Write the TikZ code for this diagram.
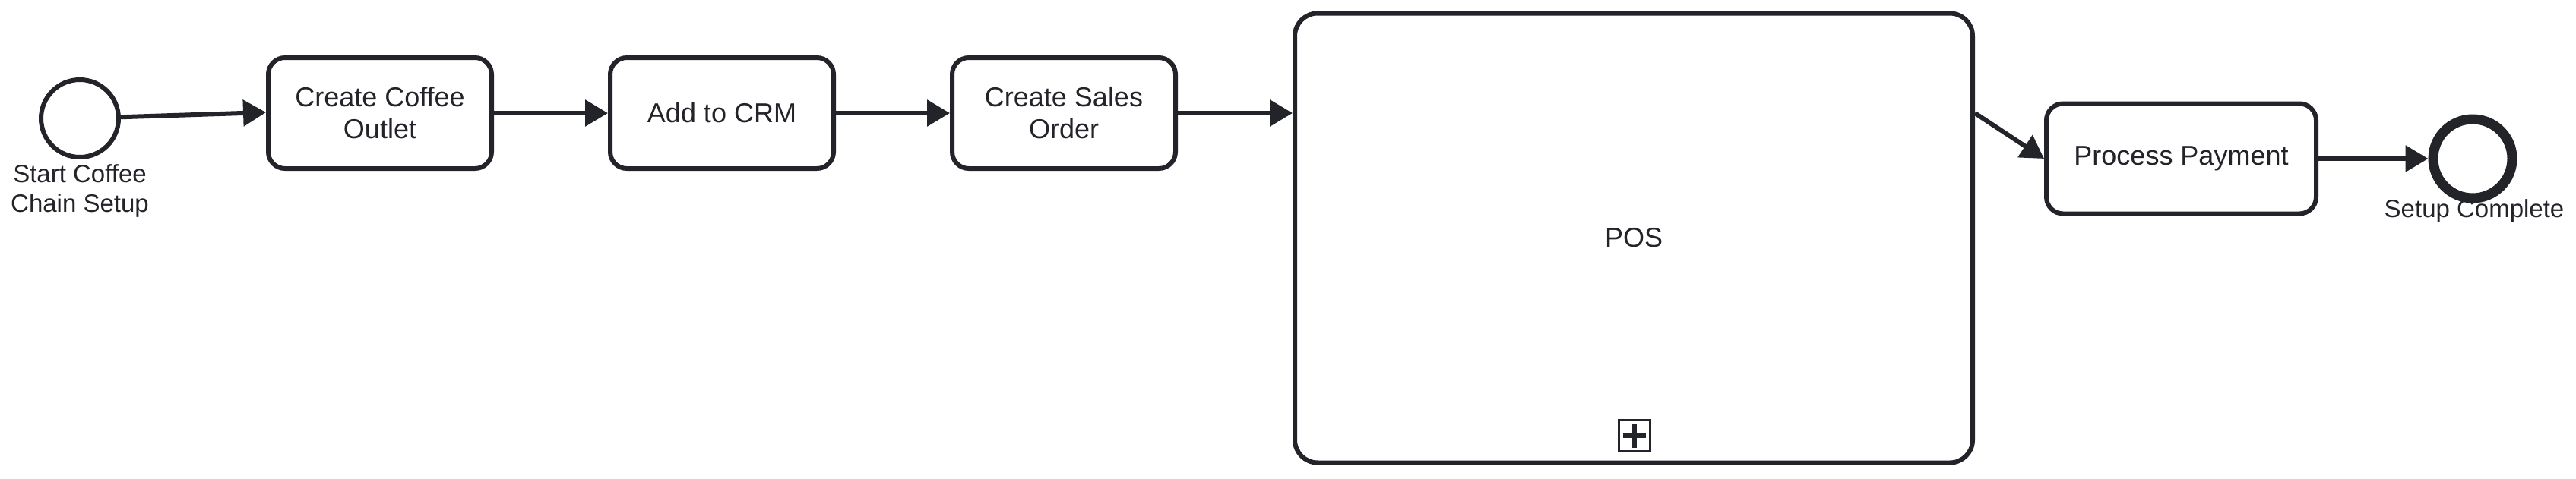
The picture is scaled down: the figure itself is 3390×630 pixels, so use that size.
\documentclass[tikz,border=0pt]{standalone}
\usepackage{fontspec}
\setmainfont{Liberation Sans}
\usetikzlibrary{arrows.meta,calc}
\definecolor{ink}{RGB}{34,36,41}
\begin{document}
\begin{tikzpicture}[x=1pt,y=-1pt,
  task/.style={draw=ink, line width=6pt, rounded corners=22pt, align=center,
    font=\fontsize{36}{42}\selectfont, text=ink, inner sep=0pt, fill=white},
  evt/.style={draw=ink, circle, inner sep=0pt},
  lbl/.style={align=center, font=\fontsize{33}{39}\selectfont, text=ink, inner sep=0pt},
  flow/.style={draw=ink, line width=6pt, -{Triangle[length=30pt,width=34pt]}}]
\useasboundingbox[fill=white] (0,0) rectangle (3390,630);
\node[evt, line width=6pt, minimum size=102pt] (start) at (105,156) {};
\node[lbl] (startlbl) at (105,251) {Start Coffee\\Chain Setup};
\node[task, minimum width=294pt, minimum height=146pt] (cco) at (500,149) {Create Coffee\\Outlet};
\node[task, minimum width=294pt, minimum height=146pt] (crm) at (950,149) {Add to CRM};
\node[task, minimum width=294pt, minimum height=146pt] (cso) at (1400,149) {Create Sales\\Order};
\node[task, rounded corners=30pt, minimum width=892pt, minimum height=592pt] (pos) at (2150,313.5) {POS};
\node[draw=ink, line width=2.5pt, minimum size=41pt, inner sep=0pt] (plus) at (2151,574) {};
\draw[ink, line width=6pt] ($(plus.center)+(-15,0)$) -- ($(plus.center)+(15,0)$);
\draw[ink, line width=6pt] ($(plus.center)+(0,-16)$) -- ($(plus.center)+(0,16)$);
\node[task, minimum width=355pt, minimum height=145pt] (pp) at (2870.5,209) {\raisebox{-4pt}{Process Payment}};
\node[evt, line width=13pt, minimum size=104pt] (end) at (3254,209) {};
\node[lbl] (endlbl) at (3256,278) {Setup Complete};
\draw[flow] (start) -- ($(cco.west)+(0,-1)$);
\draw[flow] (cco) -- (crm);
\draw[flow] (crm) -- (cso);
\draw[flow] (cso) -- (pos.west |- cso);
\draw[flow] (pos.east |- cso) -- (pp.west);
\draw[flow] (pp) -- (end);
\end{tikzpicture}
\end{document}
